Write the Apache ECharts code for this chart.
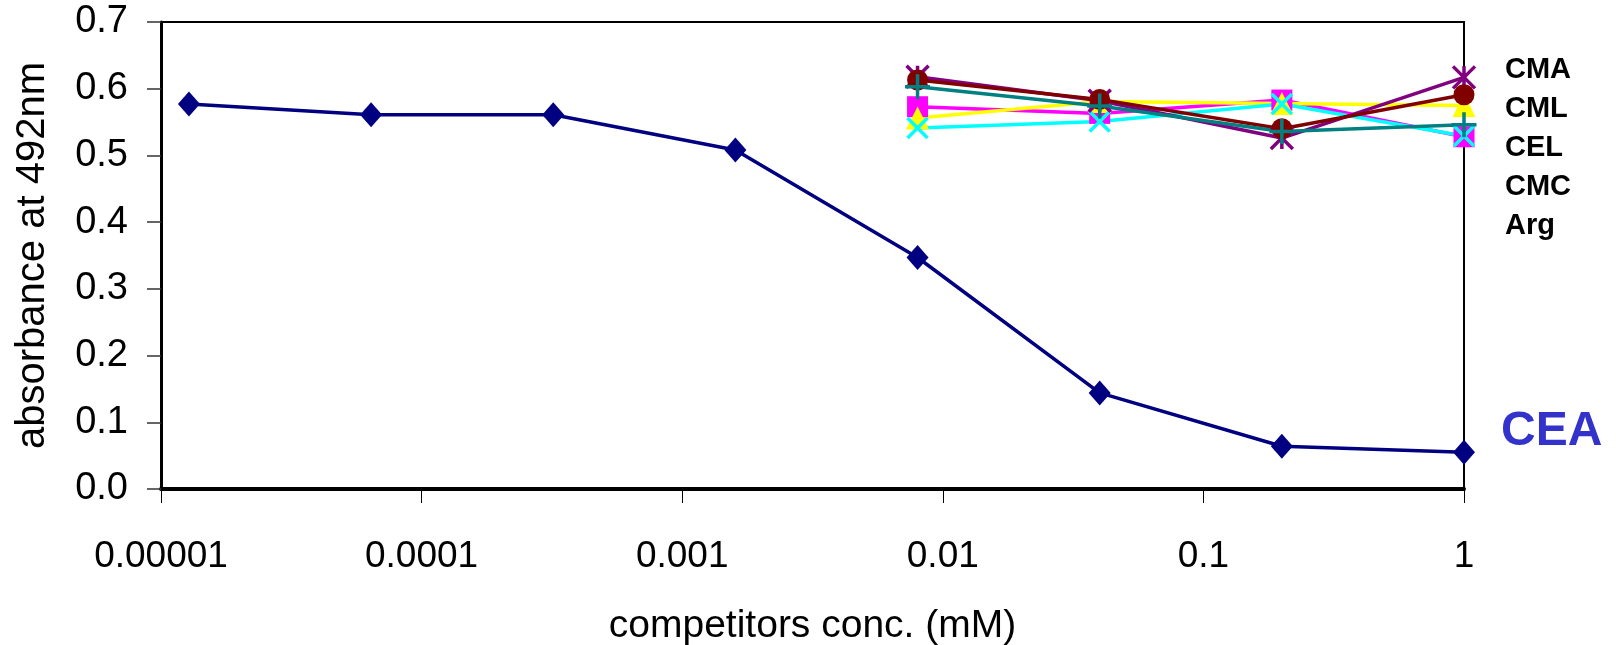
<!DOCTYPE html>
<html>
<head>
<meta charset="utf-8">
<script src="https://cdn.jsdelivr.net/npm/echarts@6/dist/echarts.min.js"></script>
<style>
  html, body { margin: 0; padding: 0; background: #fff; }
  #chart { width: 1616px; height: 645px; }
</style>
</head>
<body>
<div id="chart"></div>
<script>
// competitor concentrations (mM), 5-fold dilutions
const concCEA = [0.0000128, 0.000064, 0.00032, 0.0016, 0.008, 0.04, 0.2, 1];
const concOther = [0.008, 0.04, 0.2, 1];

const cea = [0.577, 0.561, 0.561, 0.508, 0.347, 0.144, 0.064, 0.055];
const sMagenta = [0.573, 0.563, 0.583, 0.528];
const sYellow = [0.556, 0.581, 0.578, 0.575];
const sCyan = [0.541, 0.551, 0.577, 0.529];
const sPurple = [0.618, 0.582, 0.526, 0.617];
const sDarkRed = [0.613, 0.584, 0.540, 0.591];
const sTeal = [0.603, 0.574, 0.536, 0.546];

const xTickLabels = ["0.00001", "0.0001", "0.001", "0.01", "0.1", "1"];
const labelNames = ["CMA", "CML", "CEL", "CMC", "Arg"];

const chart = echarts.init(document.getElementById("chart"));
const font = "'Liberation Sans', Arial, sans-serif";

const pair = (xs, ys) => xs.map((x, i) => [x, ys[i]]);

const X_PATH = "path://M0,0L10,10M10,0L0,10";
const STAR_PATH = "path://M0,0L10,10M10,0L0,10M5,0L5,10";
const PLUS_PATH = "path://M5,0L5,10M0,5L10,5";

function line(name, data, color, symbol, size, stroked) {
  return {
    name: name,
    type: "line",
    data: data,
    symbol: symbol,
    symbolSize: size,
    showSymbol: true,
    animation: false,
    lineStyle: { color: color, width: 3.5 },
    itemStyle: stroked
      ? { color: color, borderColor: color, borderWidth: 3.5 }
      : { color: color, borderWidth: 0 }
  };
}

const series = [
  line("CEA", pair(concCEA, cea), "#000080", "diamond", [22, 25], false),
  line("s2", pair(concOther, sMagenta), "#ff00ff", "rect", 21, false),
  line("s3", pair(concOther, sYellow), "#ffff00", "triangle", [23, 23], false),
  line("s4", pair(concOther, sCyan), "#00ffff", X_PATH, 20, true),
  line("s5", pair(concOther, sPurple), "#800080", STAR_PATH, 22, true),
  line("s6", pair(concOther, sDarkRed), "#800000", "circle", 21, false),
  line("s7", pair(concOther, sTeal), "#008080", PLUS_PATH, 25, true)
];

const graphics = labelNames.map((t, i) => ({
  type: "text",
  left: 1505,
  top: 55 + i * 39,
  style: { text: t, font: "bold 29px " + font, fill: "#000" }
}));
graphics.push({
  type: "text",
  left: 1501,
  top: 408,
  style: { text: "CEA", font: "bold 48px " + font, fill: "#3333cc" }
});

chart.setOption({
  animation: false,
  grid: {
    left: 161, right: 152, top: 22, bottom: 156,
    outerBoundsMode: "none",
    containLabel: false,
    show: true, borderColor: "#000", borderWidth: 2
  },
  xAxis: {
    type: "log",
    logBase: 10,
    min: 0.00001,
    max: 1,
    name: "competitors conc. (mM)",
    nameLocation: "middle",
    nameGap: 118,
    nameTextStyle: { fontFamily: font, fontSize: 39, color: "#000" },
    axisLine: { show: true, onZero: false, lineStyle: { color: "#000", width: 4 } },
    axisTick: { show: true, inside: false, length: 14, lineStyle: { color: "#000", width: 1 } },
    minorTick: { show: false },
    splitLine: { show: false },
    axisLabel: {
      fontFamily: font, fontSize: 37, color: "#000", margin: 49,
      formatter: (v) => xTickLabels[Math.round(Math.log10(v)) + 5] || ""
    }
  },
  yAxis: {
    type: "value",
    min: 0,
    max: 0.7,
    interval: 0.1,
    name: "absorbance at 492nm",
    nameLocation: "middle",
    nameGap: 108,
    nameRotate: 90,
    nameTextStyle: { fontFamily: font, fontSize: 40, color: "#000" },
    axisLine: { show: true, lineStyle: { color: "#000", width: 3 } },
    axisTick: { show: true, length: 14, lineStyle: { color: "#333", width: 1.5 } },
    splitLine: { show: false },
    axisLabel: {
      fontFamily: font, fontSize: 38, color: "#000", margin: 33,
      formatter: (v) => v.toFixed(1)
    }
  },
  series: series,
  graphic: graphics
});
</script>
</body>
</html>
